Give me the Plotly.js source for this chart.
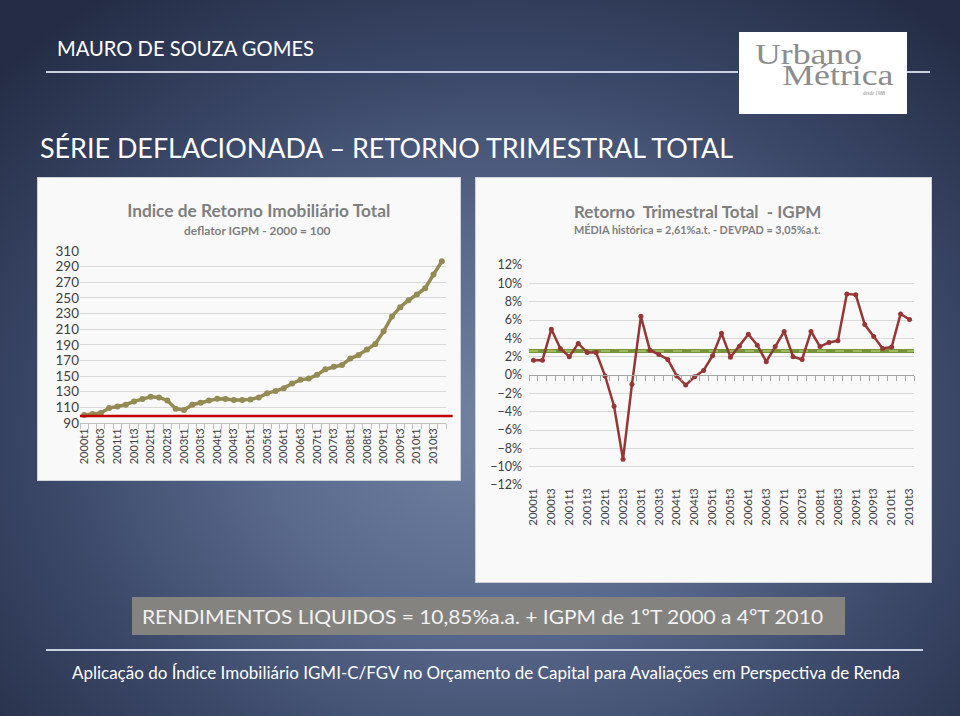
<!DOCTYPE html>
<html>
<head>
<meta charset="utf-8">
<script src="https://cdn.plot.ly/plotly-3.0.1.min.js"></script>
<style>
  html, body { margin:0; padding:0; width:960px; height:716px; overflow:hidden; }
  body {
    position:relative;
    background: radial-gradient(ellipse 70% 75% at 52% 60%, #7383a3 0%, #5a6a8d 35%, #3a4767 68%, #242d45 100%);
    font-family: Lato, "Open Sans", sans-serif;
  }
  .txt { position:absolute; white-space:nowrap; display:inline-block; transform-origin:left center; line-height:1; }
  .hline { position:absolute; height:2px; background:#c9d1e0; }
  #left, #right { position:absolute; outline:1px solid #cfd3d8; }
  #logo { position:absolute; left:755px; top:43px; font-family:'Liberation Serif','DejaVu Serif',serif; font-size:30px;
          line-height:21px; color:#8c8c8c; padding-left:23px; text-indent:-23px; white-space:nowrap;
          transform:scaleX(1.19); transform-origin:left top; }
</style>
</head>
<body>
<div class="txt" data-w="257" style="left:57px; top:37px; font-size:21px; color:#ffffff;">MAURO DE SOUZA GOMES</div>
<div class="hline" style="left:46px; top:71px; width:692px;"></div>
<div class="hline" style="left:907px; top:71px; width:23px;"></div>

<div style="position:absolute; left:739px; top:32px; width:168px; height:82px; background:#ffffff;"></div>
<div id="logo">Urbano<br>Métrica</div>
<div class="txt" data-w="22" style="left:863px; top:90px; font-family:'Liberation Serif',serif; font-style:italic; font-size:6px; color:#8c8c8c;">desde 1988</div>

<div class="txt" data-w="693" style="left:40px; top:134px; font-size:27px; color:#ffffff;">SÉRIE DEFLACIONADA – RETORNO TRIMESTRAL TOTAL</div>

<div id="left" style="left:38px; top:178px; width:422px; height:302px;"></div>
<div id="right" style="left:476px; top:178px; width:455px; height:404px;"></div>

<div style="position:absolute; left:132px; top:597px; width:713px; height:38px; background:#85837f;"></div>
<div class="txt" data-w="681" style="left:142px; top:606px; font-size:20px; color:#f2f2f2;">RENDIMENTOS LIQUIDOS = 10,85%a.a. + IGPM de 1ºT 2000 a 4ºT 2010</div>

<div class="hline" style="left:46px; top:649px; width:877px;"></div>
<div class="txt" data-w="828" style="left:72px; top:664px; font-size:17.5px; color:#ffffff;">Aplicação do Índice Imobiliário IGMI-C/FGV no Orçamento de Capital para Avaliações em Perspectiva de Renda</div>

<script>
// ---------- DATA ----------
const indexQuarters = ["2000t1","2000t2","2000t3","2000t4","2001t1","2001t2","2001t3","2001t4",
  "2002t1","2002t2","2002t3","2002t4","2003t1","2003t2","2003t3","2003t4",
  "2004t1","2004t2","2004t3","2004t4","2005t1","2005t2","2005t3","2005t4",
  "2006t1","2006t2","2006t3","2006t4","2007t1","2007t2","2007t3","2007t4",
  "2008t1","2008t2","2008t3","2008t4","2009t1","2009t2","2009t3","2009t4",
  "2010t1","2010t2","2010t3","2010t4"];
const indexValues = [100.2,101.5,102.7,109.1,111.2,113.4,117.6,120.6,
  123.6,122.7,118.9,108.3,106.6,113.4,115.9,118.9,
  121.0,120.6,119.3,119.3,120.2,122.7,128.2,130.8,
  134.6,140.5,145.2,146.9,151.6,158.8,161.8,164.3,
  172.4,177.1,183.9,191.1,207.2,226.3,238.2,247.1,
  254.4,262.4,279.9,296.8];
const indexBase = [99];

const returnQuarters = ["2000t1","2000t2","2000t3","2000t4","2001t1","2001t2","2001t3","2001t4",
  "2002t1","2002t2","2002t3","2002t4","2003t1","2003t2","2003t3","2003t4",
  "2004t1","2004t2","2004t3","2004t4","2005t1","2005t2","2005t3","2005t4",
  "2006t1","2006t2","2006t3","2006t4","2007t1","2007t2","2007t3","2007t4",
  "2008t1","2008t2","2008t3","2008t4","2009t1","2009t2","2009t3","2009t4",
  "2010t1","2010t2","2010t3"];
const returnValues = [1.6,1.6,5.0,2.9,2.0,3.45,2.45,2.45,
  -0.1,-3.4,-9.2,-1.0,6.4,2.7,2.25,1.7,
  -0.1,-1.1,-0.2,0.5,2.1,4.55,1.95,3.15,
  4.45,3.25,1.45,3.1,4.75,2.0,1.7,4.75,
  3.1,3.55,3.75,8.85,8.75,5.5,4.2,2.9,
  3.05,6.65,6.05];
const meanReturn = [2.61];

const FONT = "Lato, 'Open Sans', sans-serif";
const cfg = {staticPlot:true, displayModeBar:false};

// ---------- LEFT CHART ----------
const nL = indexQuarters.length;
Plotly.newPlot('left', [
  {x: indexQuarters, y: indexValues, type:'scatter', mode:'lines+markers',
   line:{color:'#948a54', width:3.5}, marker:{color:'#948a54', size:6}, showlegend:false},
  {x: [], y: [], xaxis:'x2', yaxis:'y', type:'scatter', showlegend:false}
], {
  width:422, height:302,
  paper_bgcolor:'#f9f9f9', plot_bgcolor:'rgba(0,0,0,0)',
  margin:{l:42, r:14, t:73, b:57},
  font:{family:FONT, color:'#404040'},
  title:{text:'<b>Indice de Retorno Imobiliário Total</b>', font:{family:FONT, size:17.3, color:'#7f7f7f'},
         xref:'container', x:0.523, xanchor:'center', yref:'container', y:0.89, yanchor:'middle'},
  annotations:[{text:'<b>deflator IGPM - 2000 = 100</b>', xref:'paper', yref:'paper', x:0.486, y:1.122,
    xanchor:'center', yanchor:'middle', showarrow:false, font:{family:FONT, size:11.9, color:'#7f7f7f'}}],
  xaxis:{type:'category', range:[-0.5, nL-0.5], tickmode:'linear', tick0:0, dtick:2, tickangle:-90,
    showline:true, linecolor:'#bfbfbf', linewidth:1, ticks:'', showgrid:false, zeroline:false,
    tickfont:{family:FONT, size:11, color:'#404040'}},
  xaxis2:{overlaying:'x', anchor:'y', side:'bottom', range:[-0.5, nL-0.5], tickmode:'linear', tick0:-0.5, dtick:1,
    ticks:'outside', ticklen:5, tickcolor:'#bfbfbf', showticklabels:false, showgrid:false, zeroline:false, showline:false},
  yaxis:{range:[90,310], tickmode:'linear', tick0:90, dtick:20, gridcolor:'#d9d9d9', zeroline:false, showline:false,
    ticks:'', tickfont:{family:FONT, size:13.5, color:'#404040'}},
  shapes:[{type:'line', xref:'paper', x0:0, x1:1.018, yref:'y', y0:indexBase[0], y1:indexBase[0],
    line:{color:'#c00000', width:2.5}}]
}, cfg);

// ---------- RIGHT CHART ----------
const nR = returnQuarters.length;
Plotly.newPlot('right', [
  {x: returnQuarters, y: returnValues, type:'scatter', mode:'lines+markers',
   line:{color:'#953735', width:2.5}, marker:{color:'#953735', size:5}, showlegend:false},
  {x: [], y: [], xaxis:'x2', yaxis:'y', type:'scatter', showlegend:false}
], {
  width:455, height:404,
  paper_bgcolor:'#f9f9fa', plot_bgcolor:'rgba(0,0,0,0)',
  margin:{l:53, r:17, t:87, b:97},
  font:{family:FONT, color:'#404040'},
  title:{text:'<b>Retorno  Trimestral Total  - IGPM</b>', font:{family:FONT, size:17, color:'#7f7f7f'},
         xref:'container', x:0.487, xanchor:'center', yref:'container', y:0.916, yanchor:'middle'},
  annotations:[{text:'<b>MÉDIA histórica = 2,61%a.t. - DEVPAD = 3,05%a.t.</b>', xref:'paper', yref:'paper', x:0.438, y:1.16,
    xanchor:'center', yanchor:'middle', showarrow:false, font:{family:FONT, size:10.9, color:'#7f7f7f'}}],
  xaxis:{type:'category', range:[-0.5, nR-0.5], tickmode:'linear', tick0:0, dtick:2, tickangle:-90,
    showline:false, ticks:'', showgrid:false, zeroline:false,
    tickfont:{family:FONT, size:11.5, color:'#404040'}},
  xaxis2:{overlaying:'x', anchor:'free', position:0.5, range:[-0.5, nR-0.5], tickmode:'linear', tick0:-0.5, dtick:1,
    ticks:'outside', ticklen:5, tickcolor:'#a6a6a6', showticklabels:false, showgrid:false, zeroline:false,
    showline:true, linecolor:'#a6a6a6', linewidth:1},
  yaxis:{range:[-12,12], tickmode:'linear', tick0:-12, dtick:2, ticksuffix:'%', gridcolor:'#d9d9d9',
    zeroline:false, showline:false, ticks:'', ticklabelstandoff:6, tickfont:{family:FONT, size:12.5, color:'#404040'}},
  shapes:[
    {type:'line', xref:'paper', x0:0, x1:1, yref:'y', y0:meanReturn[0], y1:meanReturn[0], line:{color:'#77933c', width:4}, layer:'below'},
    {type:'line', xref:'paper', x0:0, x1:1, yref:'y', y0:meanReturn[0], y1:meanReturn[0], line:{color:'#a9c86a', width:1.5, dash:'dash'}, layer:'below'}
  ]
}, cfg);

// ---------- fit slide texts to their measured widths ----------
document.querySelectorAll('.txt[data-w]').forEach(el => {
  const w = el.getBoundingClientRect().width;
  const target = parseFloat(el.dataset.w);
  if (w > 0) el.style.transform = 'scaleX(' + (target / w).toFixed(4) + ')';
});
</script>
</body>
</html>
